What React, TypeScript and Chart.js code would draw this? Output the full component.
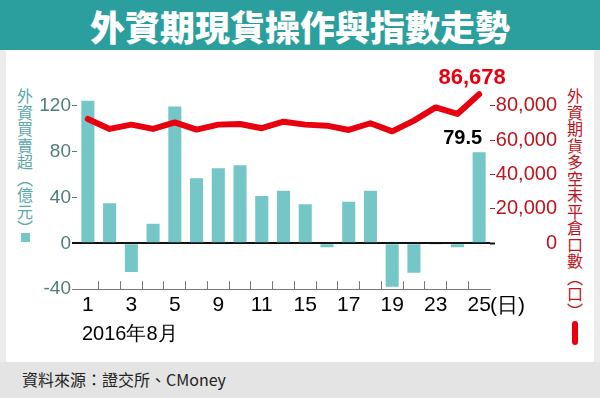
import React, { useEffect, useRef } from "react";
import { Chart, registerables } from "chart.js";

Chart.register(...registerables);

const dates = ["1", "2", "3", "4", "5", "8", "9", "10", "11", "12", "15", "16", "17", "18", "19", "22", "23", "24", "25"];
const netBuySell = [124.4, 35, -25, 17, 119.2, 56.7, 65.4, 68, 41.3, 45.9, 34, -3.5, 36.3, 45.9, -37.8, -25.6, -0.5, -3.5, 79.5];
const openInterest = [72300, 66500, 69000, 66500, 70300, 66100, 69000, 69400, 66900, 70700, 69000, 68400, 65900, 69800, 65100, 71300, 79000, 75200, 86678];
const leftTicks = [-40, 0, 40, 80, 120];
const rightTicks = [0, 20000, 40000, 60000, 80000];

const LATIN = 'Arial, "Liberation Sans", sans-serif';
const CJK = '"Noto Sans CJK TC", "Noto Sans CJK SC", sans-serif';
const BAR = "#74c6c7";
const RED = "#e8000f";
const LEFT_TXT = "#4f7d7e";
const RIGHT_TXT = "#c0141c";

const labelPlugin = {
  id: "valueLabels",
  afterDatasetsDraw(chart: any) {
    const ctx = chart.ctx;
    const barMeta = chart.getDatasetMeta(0);
    const lineMeta = chart.getDatasetMeta(1);
    const lastBar = barMeta.data[barMeta.data.length - 1];
    const lastPt = lineMeta.data[lineMeta.data.length - 1];
    ctx.save();
    ctx.textBaseline = "middle";
    ctx.font = "bold 20px " + LATIN;
    ctx.fillStyle = "#000";
    ctx.textAlign = "right";
    ctx.fillText(String(netBuySell[netBuySell.length - 1]), lastBar.x + 3, lastBar.y - 14);
    ctx.font = "bold 22px " + LATIN;
    ctx.fillStyle = RED;
    ctx.textAlign = "center";
    ctx.fillText(openInterest[openInterest.length - 1].toLocaleString("en-US"), lastPt.x - 7, lastPt.y - 16);
    ctx.restore();
  },
};

function ChartCanvas() {
  const ref = useRef<HTMLCanvasElement | null>(null);
  useEffect(() => {
    if (!ref.current) return;
    const chart = new Chart(ref.current, {
      type: "bar",
      data: {
        labels: dates,
        datasets: [
          {
            type: "bar",
            data: netBuySell,
            backgroundColor: BAR,
            yAxisID: "y",
            barPercentage: 0.6,
            categoryPercentage: 1,
            order: 2,
          },
          {
            type: "line",
            data: openInterest,
            borderColor: RED,
            borderWidth: 6,
            pointRadius: 0,
            tension: 0,
            borderJoinStyle: "round",
            borderCapStyle: "round",
            yAxisID: "y1",
            order: 1,
            clip: false,
          } as any,
        ],
      },
      options: {
        responsive: false,
        animation: false,
        devicePixelRatio: 1,
        layout: { padding: { top: 88.5, left: 0, right: 43, bottom: 0 } },
        plugins: { legend: { display: false }, tooltip: { enabled: false } },
        scales: {
          x: {
            type: "category",
            offset: true,
            grid: {
              offset: true,
              drawOnChartArea: false,
              drawTicks: true,
              tickLength: -8,
              color: (c: any) => (c.index === 0 || c.index === undefined ? "rgba(0,0,0,0)" : "#777"),
              lineWidth: 1,
            },
            border: { display: true, color: "#777", width: 1 },
            ticks: {
              autoSkip: false,
              maxRotation: 0,
              padding: 11,
              color: "#000",
              font: { family: LATIN, size: 21 },
              callback: (_v: any, i: number) => (i % 2 === 0 ? dates[i] : ""),
            },
            afterFit: (s: any) => {
              s.height = 398 - 289.2;
            },
          },
          y: {
            position: "left",
            min: -40,
            max: 135,
            afterBuildTicks: (s: any) => {
              s.ticks = leftTicks.map((value) => ({ value }));
            },
            afterFit: (s: any) => {
              s.width = 77;
            },
            border: { display: false },
            grid: {
              drawOnChartArea: true,
              drawTicks: true,
              tickLength: 5,
              color: (c: any) => (c.tick && c.tick.value === 0 ? "#111" : "rgba(0,0,0,0)"),
              lineWidth: (c: any) => (c.tick && c.tick.value === 0 ? 2 : 1),
              tickColor: (c: any) =>
                c.tick && c.tick.value === 0 ? "#111" : c.tick && c.tick.value === -40 ? "#777" : LEFT_TXT,
              tickWidth: (c: any) => (c.tick && c.tick.value === 0 ? 2 : 1),
            },
            ticks: {
              padding: 1,
              color: LEFT_TXT,
              font: { family: LATIN, size: 19 },
              callback: (v: any) => String(v),
            },
          },
          y1: {
            position: "right",
            min: -26666.67,
            max: 90000,
            afterBuildTicks: (s: any) => {
              s.ticks = rightTicks.map((value) => ({ value }));
            },
            afterFit: (s: any) => {
              s.width = 557 - 490;
            },
            border: { display: false },
            grid: {
              drawOnChartArea: false,
              drawTicks: true,
              tickLength: 5,
              tickColor: (c: any) => (c.tick && c.tick.value === 0 ? "#111" : RIGHT_TXT),
              tickWidth: (c: any) => (c.tick && c.tick.value === 0 ? 2 : 1),
            },
            ticks: {
              crossAlign: "far",
              padding: 1,
              color: RIGHT_TXT,
              font: { family: LATIN, size: 20 },
              callback: (v: any) => (v === 0 ? "0" : Number(v).toLocaleString("en-US")),
            },
          },
        },
      } as any,
      plugins: [labelPlugin],
    });
    return () => chart.destroy();
  }, []);
  return (
    <canvas
      ref={ref}
      width={600}
      height={398}
      style={{ position: "absolute", left: 0, top: 0, width: 600, height: 398 }}
    />
  );
}

export default function App() {
  const vertical: React.CSSProperties = {
    position: "absolute",
    writingMode: "vertical-rl",
    fontFamily: CJK,
    fontSize: 16,
    lineHeight: "16px",
    letterSpacing: 0.5,
  };
  return (
    <div
      style={{
        position: "fixed",
        left: 0,
        top: 0,
        width: 600,
        height: 398,
        background: "#ececec",
        overflow: "hidden",
      }}
    >
      <div style={{ position: "absolute", left: 0, top: 0, width: 600, height: 50, background: "#2b9f9e" }} />
      <div
        style={{
          position: "absolute",
          left: 0,
          top: 0,
          width: 600,
          height: 52,
          lineHeight: "52px",
          textAlign: "center",
          color: "#fff",
          fontFamily: CJK,
          fontWeight: 900,
          fontSize: 35,
        }}
      >
        外資期現貨操作與指數走勢
      </div>
      <div style={{ position: "absolute", left: 6, top: 50, width: 588, height: 312, background: "#fff" }} />
      <div style={{ position: "absolute", left: 0, top: 362, width: 600, height: 36, background: "#e4e4e4" }} />
      <div
        style={{
          position: "absolute",
          left: 22,
          top: 369,
          fontFamily: CJK,
          fontSize: 16,
          lineHeight: "20px",
          color: "#222",
        }}
      >
        資料來源：證交所、CMoney
      </div>
      <div style={{ ...vertical, left: 17, top: 88, color: "#5aa9aa" }}>外資買賣超（億元）</div>
      <div style={{ position: "absolute", left: 21, top: 233, width: 9, height: 9, background: BAR }} />
      <div style={{ ...vertical, left: 567, top: 88, color: RIGHT_TXT }}>外資期貨多空未平倉口數（口）</div>
      <div
        style={{
          position: "absolute",
          left: 572,
          top: 321,
          width: 6,
          height: 24,
          borderRadius: 3,
          background: RED,
        }}
      />
      <ChartCanvas />
      <div
        style={{
          position: "absolute",
          left: 82,
          top: 322,
          fontFamily: LATIN,
          fontSize: 20,
          lineHeight: "22px",
          color: "#000",
        }}
      >
        2016年8月
      </div>
      <div
        style={{
          position: "absolute",
          left: 490,
          top: 294,
          fontFamily: LATIN,
          fontSize: 21,
          lineHeight: "22px",
          color: "#000",
        }}
      >
        (日)
      </div>
    </div>
  );
}
